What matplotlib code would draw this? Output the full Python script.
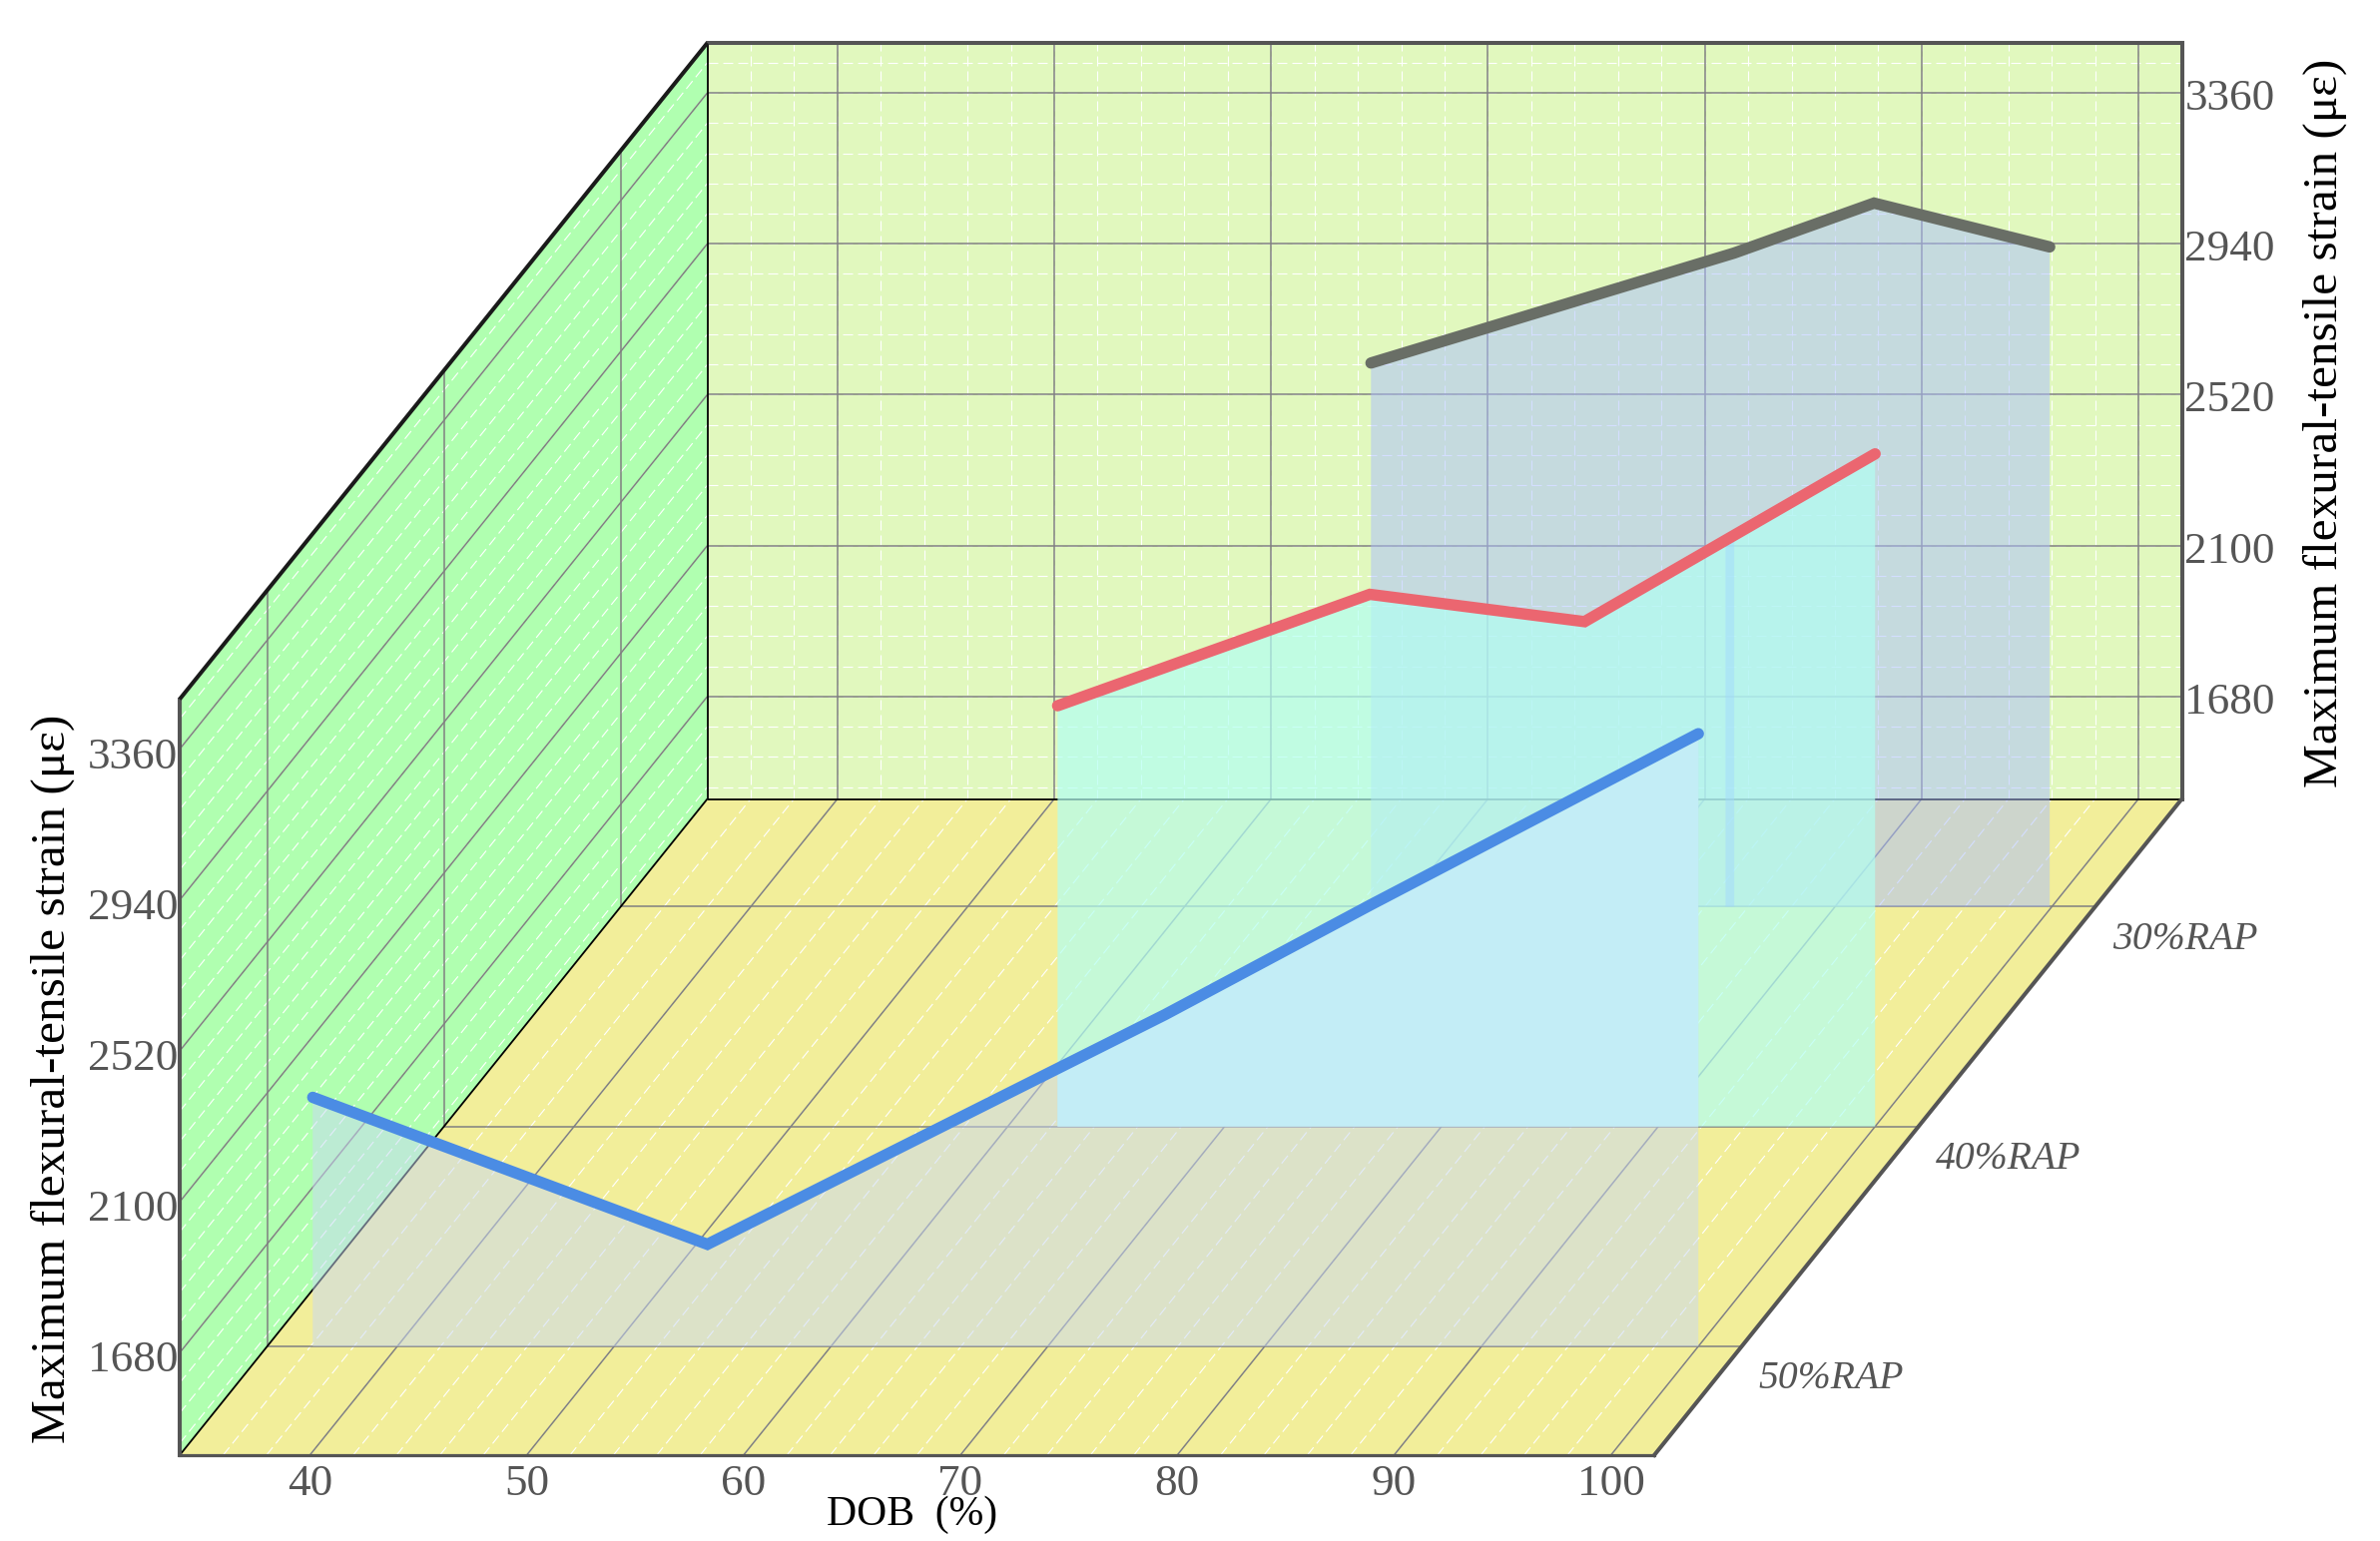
import matplotlib
matplotlib.use("Agg")
import matplotlib.pyplot as plt
from matplotlib.patches import Polygon
import numpy as np

# ---------- data ----------
dob_ticks = [40, 50, 60, 70, 80, 90, 100]
strain_ticks = [1680, 2100, 2520, 2940, 3360]
rap_ticks = [50, 40, 30]
rap_labels = ["50%RAP", "40%RAP", "30%RAP"]

blue_rap = 50
blue_dob = [36.1, 54.3, 75.4, 84.9, 100.0]
blue_strain = [2088, 1679, 2318, 2624, 3100]

red_rap = 40
red_dob = [62.3, 76.7, 86.6, 100.0]
red_strain = [2566, 2876, 2800, 3267]

gray_rap = 30
gray_dob = [68.6, 85.35, 91.8, 99.9]
gray_strain = [2908, 3214, 3353, 3231]

ylabel = "Maximum flexural-tensile strain (\u03bc\u03b5)"
xlabel = "DOB  (%)"

# ---------- axis ranges & oblique projection ----------
DOB_MIN, DOB_MAX = 34.0, 102.0
RAP_BACK, RAP_FRONT = 25.1, 54.95
Z_MIN, Z_MAX = 1395.0, 3499.0

X0, Y0 = 180.0, 1458.0          # front-left-bottom corner, px
XW, DX, DY, ZH = 1477.0, 528.5, 657.5, 757.5


def project(dob, rap, z):
    dob, rap, z = np.asarray(dob, float), np.asarray(rap, float), np.asarray(z, float)
    d = (RAP_FRONT - rap) / (RAP_FRONT - RAP_BACK)
    px = X0 + (dob - DOB_MIN) / (DOB_MAX - DOB_MIN) * XW + d * DX
    py = Y0 - d * DY - (z - Z_MIN) / (Z_MAX - Z_MIN) * ZH
    return px, py


fig = plt.figure(figsize=(23.84, 15.44), dpi=100, facecolor="white")
ax = fig.add_axes([0, 0, 1, 1])
ax.set_xlim(0, 2384)
ax.set_ylim(1544, 0)
ax.axis("off")


def seg(a, b, **kw):
    px, py = project([a[0], b[0]], [a[1], b[1]], [a[2], b[2]])
    kw.setdefault("solid_capstyle", "butt")
    ax.plot(px, py, **kw)


def face(pts, color):
    px, py = project(*zip(*pts))
    ax.add_patch(Polygon(np.c_[px, py], closed=True, fc=color, ec="none", zorder=1))


# walls
face([(DOB_MIN, RAP_BACK, Z_MIN), (DOB_MAX, RAP_BACK, Z_MIN), (DOB_MAX, RAP_BACK, Z_MAX), (DOB_MIN, RAP_BACK, Z_MAX)], "#E1F8BE")
face([(DOB_MIN, RAP_FRONT, Z_MIN), (DOB_MIN, RAP_BACK, Z_MIN), (DOB_MIN, RAP_BACK, Z_MAX), (DOB_MIN, RAP_FRONT, Z_MAX)], "#B0FFB0")
face([(DOB_MIN, RAP_FRONT, Z_MIN), (DOB_MAX, RAP_FRONT, Z_MIN), (DOB_MAX, RAP_BACK, Z_MIN), (DOB_MIN, RAP_BACK, Z_MIN)], "#F2EE9A")

# minor grid (white dashed)
minor = dict(color="white", lw=0.8, linestyle=(0, (9, 4.5)), zorder=2)
for d in np.arange(36, DOB_MAX + 0.1, 2):
    seg((d, RAP_BACK, Z_MIN), (d, RAP_BACK, Z_MAX), **minor)
    seg((d, RAP_FRONT, Z_MIN), (d, RAP_BACK, Z_MIN), **minor)
for z in np.arange(1428, Z_MAX, 84):
    seg((DOB_MIN, RAP_BACK, z), (DOB_MAX, RAP_BACK, z), **minor)
    seg((DOB_MIN, RAP_FRONT, z), (DOB_MIN, RAP_BACK, z), **minor)

# major grid (grey)
major = dict(color="#808080", lw=1.1, zorder=3)
for d in dob_ticks:
    seg((d, RAP_BACK, Z_MIN), (d, RAP_BACK, Z_MAX), **major)
    seg((d, RAP_FRONT, Z_MIN), (d, RAP_BACK, Z_MIN), **major)
for z in strain_ticks:
    seg((DOB_MIN, RAP_BACK, z), (DOB_MAX, RAP_BACK, z), **major)
    seg((DOB_MIN, RAP_FRONT, z), (DOB_MIN, RAP_BACK, z), **major)
for r in rap_ticks:
    seg((DOB_MIN, r, Z_MIN), (DOB_MAX, r, Z_MIN), **major)
    seg((DOB_MIN, r, Z_MIN), (DOB_MIN, r, Z_MAX), **major)

# frame
thin = dict(color="black", lw=1.3, zorder=4)
seg((DOB_MIN, RAP_BACK, Z_MIN), (DOB_MAX, RAP_BACK, Z_MIN), **thin)
seg((DOB_MIN, RAP_BACK, Z_MIN), (DOB_MIN, RAP_BACK, Z_MAX), **thin)
seg((DOB_MIN, RAP_FRONT, Z_MIN), (DOB_MIN, RAP_BACK, Z_MIN), **thin)
thick = dict(color="#555555", lw=2.9, zorder=12, solid_capstyle="projecting")
seg((DOB_MIN, RAP_FRONT, Z_MIN), (DOB_MIN, RAP_FRONT, Z_MAX), **thick)
seg((DOB_MIN, RAP_FRONT, Z_MIN), (DOB_MAX, RAP_FRONT, Z_MIN), color="#555555", lw=2.3, zorder=12, solid_capstyle="projecting")
seg((DOB_MAX, RAP_FRONT, Z_MIN), (DOB_MAX, RAP_BACK, Z_MIN), **thick)
seg((DOB_MAX, RAP_BACK, Z_MIN), (DOB_MAX, RAP_BACK, Z_MAX), **thick)
seg((DOB_MIN, RAP_BACK, Z_MAX), (DOB_MAX, RAP_BACK, Z_MAX), **thick)
seg((DOB_MIN, RAP_FRONT, Z_MAX), (DOB_MIN, RAP_BACK, Z_MAX), color="#1a1a1a", lw=2.9, zorder=12)


def wall_xy(dob, rap, strain):
    dob = np.asarray(dob, float)
    strain = np.asarray(strain, float)
    top = np.c_[project(dob, rap, strain)]
    base = np.c_[project(dob[::-1], rap, np.full(len(dob), Z_MIN))]
    return np.vstack([top, base])


def wall(dob, rap, strain, color, alpha, z):
    p = Polygon(wall_xy(dob, rap, strain), closed=True, fc=color, ec="none", alpha=alpha, zorder=z)
    ax.add_patch(p)
    return p


def ribbon(dob, rap, strain, color, z):
    px, py = project(dob, rap, strain)
    ax.plot(px, py, color=color, lw=8.2, solid_capstyle="round", solid_joinstyle="miter", zorder=z)


# 30 % RAP
gray_fill = (170 / 255, 190 / 255, 1.0)
wall(gray_dob, gray_rap, gray_strain, gray_fill, 0.5, 5)
ribbon(gray_dob, gray_rap, gray_strain, "#696E66", 6)

# 40 % RAP
red_poly = wall(red_dob, red_rap, red_strain, (178 / 255, 1.0, 242 / 255), 0.7, 7)
ribbon(red_dob, red_rap, red_strain, "#EB6670", 8)

# narrow band at the bend of the 30 % RAP wall, visible only through the 40 % RAP wall
band = wall([gray_dob[1] - 0.4, gray_dob[1]], gray_rap, [gray_strain[1] - 5, gray_strain[1]],
            (160 / 255, 215 / 255, 1.0), 0.45, 7.5)
band.set_clip_path(red_poly)

# 50 % RAP
wall(blue_dob, blue_rap, blue_strain, (200 / 255, 216 / 255, 246 / 255), 0.5, 9)
overlap = Polygon(wall_xy(blue_dob, blue_rap, blue_strain), closed=True, fc="#C3EDF6", ec="none", zorder=9.5)
ax.add_patch(overlap)
overlap.set_clip_path(red_poly)
ribbon(blue_dob, blue_rap, blue_strain, "#4B8CE4", 10)

# tick labels
serif = "Liberation Serif"
tick = dict(family=serif, fontsize=32.5, color="#555555")
for d in dob_ticks:
    px, py = project(d, RAP_FRONT, Z_MIN)
    ax.text(px, py + 29, str(d), ha="center", va="center", **tick)
for z in strain_ticks:
    px, py = project(DOB_MIN, RAP_FRONT, z)
    ax.text(px - 2, py + 8, str(z), ha="right", va="center", **tick)
    px, py = project(DOB_MAX, RAP_BACK, z)
    ax.text(px + 3, py + 6, str(z), ha="left", va="center", **tick)
for r, lab in zip(rap_ticks, rap_labels):
    px, py = project(DOB_MAX, r, Z_MIN)
    ax.text(px + 17, py + 33, lab, ha="left", va="center", family=serif, style="italic",
            fontsize=28.5, color="#555555")

# axis titles
ax.text(53, 1081, ylabel, rotation=90, ha="center", va="center", family=serif, fontsize=35.5, color="black")
ax.text(2329, 424, ylabel, rotation=90, ha="center", va="center", family=serif, fontsize=35.5, color="black")
ax.text(914, 1518, xlabel, ha="center", va="center", family=serif, fontsize=30, color="black")

fig.savefig("out.png", dpi=100, facecolor="white")
